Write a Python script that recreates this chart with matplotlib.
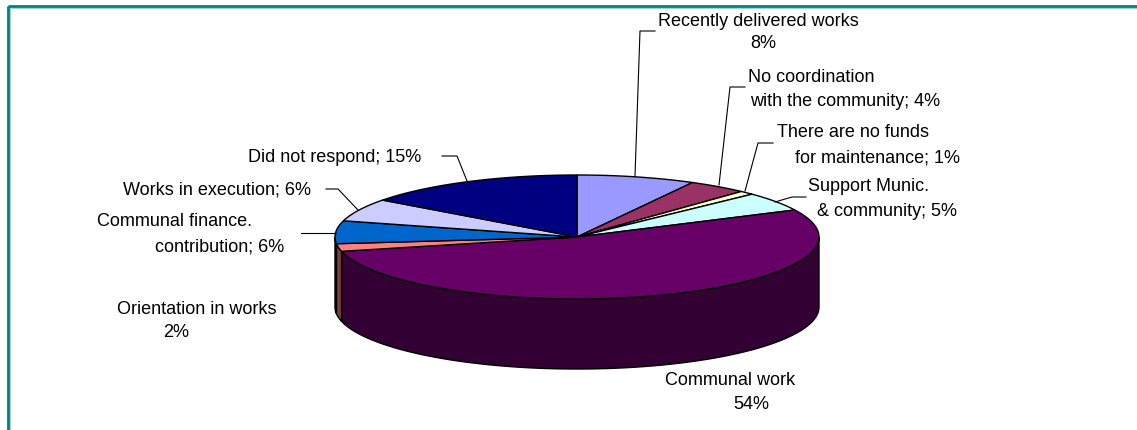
import matplotlib
matplotlib.use("agg")
import matplotlib.pyplot as plt
from matplotlib.patches import Polygon
import numpy as np

# slices, clockwise from 12 o'clock
categories = ["Recently delivered works", "No coordination with the community",
              "There are no funds for maintenance", "Support Munic. & community",
              "Communal work", "Orientation in works", "Communal finance. contribution",
              "Works in execution", "Did not respond"]
values = [8, 4, 1, 5, 54, 2, 6, 6, 15]
top_colors = ["#9999FF", "#993366", "#FFFFCC", "#CCFFFF", "#660066",
              "#FF8080", "#0066CC", "#CCCCFF", "#000080"]

# label text, one entry per line
label_lines = [["Recently delivered works", "8%"],
               ["No coordination", "with the community; 4%"],
               ["There are no funds", "for maintenance; 1%"],
               ["Support Munic.", "& community; 5%"],
               ["Communal work", "54%"],
               ["Orientation in works", "2%"],
               ["Communal finance.", "contribution; 6%"],
               ["Works in execution; 6%"],
               ["Did not respond; 15%"]]

# layout (pixels)
W, H = 1137, 431
cx, cy, rx, ry, depth = 577, 238, 242, 62, 70
label_pos = [[(658, 21), (750, 43)],
             [(748, 77), (750, 102)],
             [(777, 133), (795, 158)],
             [(808, 187), (817, 212)],
             [(665, 381), (733, 405)],
             [(117, 310), (163, 333)],
             [(97, 222), (155, 247)],
             [(123, 190)],
             [(248, 158)]]
leaders = [[(655, 32), (640, 32), (635, 177)],
           [(745, 88), (730, 88), (719, 186)],
           [(773, 144), (758, 144), (745, 192)],
           [(806, 198), (792, 198), (775, 203)],
           None, None,
           [(301, 234), (336, 234)],
           [(326, 190), (338, 190), (358, 211)],
           [(442, 157), (457, 157), (467, 182)]]

plt.rcParams['font.family'] = ['Liberation Sans', 'DejaVu Sans']

fig = plt.figure(figsize=(W / 100, H / 100), dpi=100)
ax = fig.add_axes([0, 0, 1, 1])
ax.set_xlim(0, W)
ax.set_ylim(H, 0)
ax.axis('off')


def pt(a, dy=0):
    return (cx + rx * np.sin(a), cy - ry * np.cos(a) + dy)


def darker(c, f=0.5):
    r, g, b = matplotlib.colors.to_rgb(c)
    return (r * f, g * f, b * f)


frac = np.array(values, dtype=float) / sum(values)
edges = np.concatenate([[0], np.cumsum(frac)]) * 2 * np.pi

# side walls (only the front half shows)
for i, col in enumerate(top_colors):
    a0 = max(edges[i], np.pi / 2)
    a1 = min(edges[i + 1], 3 * np.pi / 2)
    if a1 <= a0:
        continue
    aa = np.linspace(a0, a1, 200)
    upper = [pt(a) for a in aa]
    lower = [pt(a, depth) for a in aa[::-1]]
    ax.add_patch(Polygon(upper + lower, closed=True, facecolor=darker(col),
                         edgecolor='black', linewidth=1.0, zorder=1))

# top faces
for i, col in enumerate(top_colors):
    n = max(int((edges[i + 1] - edges[i]) * 100), 4)
    aa = np.linspace(edges[i], edges[i + 1], n)
    verts = [(cx, cy)] + [pt(a) for a in aa]
    ax.add_patch(Polygon(verts, closed=True, facecolor=col,
                         edgecolor='black', linewidth=1.0, zorder=2))

# labels + leader lines
for lines, pos, lead in zip(label_lines, label_pos, leaders):
    for s, (x, y) in zip(lines, pos):
        ax.text(x, y, s, fontsize=13, ha='left', va='center', zorder=3)
    if lead is not None:
        xs, ys = zip(*lead)
        ax.plot(xs, ys, color='black', linewidth=0.8, zorder=3)

# teal frame (top and left only are in view)
ax.plot([8, W], [7, 7], color='#008080', linewidth=2, solid_capstyle='butt')
ax.plot([8, 8], [7, H], color='#008080', linewidth=2, solid_capstyle='butt')
ax.plot([9.5, W], [8.7, 8.7], color='#9fd0d0', linewidth=0.7)
ax.plot([9.5, 9.5], [8.7, H], color='#9fd0d0', linewidth=0.7)

fig.savefig('out.png', dpi=100)
